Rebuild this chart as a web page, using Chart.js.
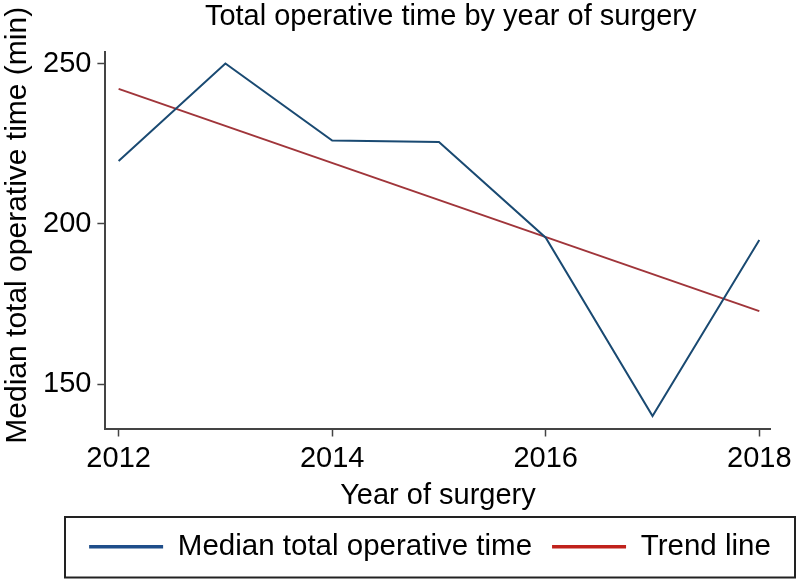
<!DOCTYPE html>
<html>
<head>
<meta charset="utf-8">
<script src="https://cdn.jsdelivr.net/npm/chart.js@4.4.1/dist/chart.umd.min.js"></script>
<style>
  html, body { margin: 0; padding: 0; background: #ffffff; }
  #wrap { width: 800px; height: 580px; }
</style>
</head>
<body>
<div id="wrap"><canvas id="c" width="800" height="580"></canvas></div>
<script>
const years = [2012, 2013, 2014, 2015, 2016, 2017, 2018];
const medianTime = [219.6, 250.0, 226.0, 225.5, 195.7, 140.1, 195.0];
const trendYears = [2012, 2018];
const trendValues = [242.1, 172.8];
const yTicks = [150, 200, 250];
const xTicks = [2012, 2014, 2016, 2018];
const seriesNames = ['Median total operative time', 'Trend line'];

const FONT = "'Liberation Sans', Arial, Helvetica, sans-serif";
const BLUE = '#1a4a72';
const RED = '#a0353a';
const LEGEND_COLORS = ['#1f4e8a', '#c0221c'];

const legendFrame = {
  id: 'legendFrame',
  beforeDraw(chart) {
    const lg = chart.legend;
    lg.left = 65; lg.right = 795;
  },
  afterDraw(chart) {
    const lg = chart.legend;
    const ctx = chart.ctx;
    ctx.save();
    ctx.strokeStyle = '#222';
    ctx.lineWidth = 2;
    ctx.strokeRect(lg.left, lg.top + 5, lg.right - lg.left, lg.bottom - lg.top + 1);
    ctx.restore();
  }
};

const titleShift = {
  id: 'titleShift',
  beforeDraw(chart) {
    const tb = chart.titleBlock;
    tb.left = chart.chartArea.left;
    tb.right = chart.width - 4;
    const ys = chart.scales.y;
    if (!ys._shiftedTitle) {
      const orig = ys.drawTitle;
      ys.drawTitle = function () {
        this.ctx.save();
        this.ctx.translate(0, -15);
        orig.call(this);
        this.ctx.restore();
      };
      ys._shiftedTitle = true;
    }
  }
};

new Chart(document.getElementById('c'), {
  type: 'line',
  data: {
    datasets: [
      {
        label: seriesNames[0],
        data: years.map((y, i) => ({ x: y, y: medianTime[i] })),
        borderColor: BLUE,
        backgroundColor: BLUE,
        borderWidth: 2,
        pointRadius: 0,
        tension: 0
      },
      {
        label: seriesNames[1],
        data: trendYears.map((y, i) => ({ x: y, y: trendValues[i] })),
        borderColor: RED,
        backgroundColor: RED,
        borderWidth: 2,
        pointRadius: 0,
        tension: 0
      }
    ]
  },
  options: {
    responsive: false,
    animation: false,
    layout: { padding: { left: 3, right: 26, top: 0, bottom: 8.5 } },
    plugins: {
      title: {
        display: true,
        text: 'Total operative time by year of surgery',
        color: '#000',
        font: { family: FONT, size: 29, weight: 'normal', lineHeight: 1.0 },
        padding: { top: 2, bottom: 21 }
      },
      legend: {
        display: true,
        position: 'bottom',
        labels: {
          color: '#000',
          font: { family: FONT, size: 29.5, lineHeight: 1.0 },
          usePointStyle: true,
          pointStyle: 'line',
          pointStyleWidth: 74,
          padding: 20,
          generateLabels(chart) {
            return chart.data.datasets.map((ds, i) => ({
              text: ds.label,
              fillStyle: LEGEND_COLORS[i],
              strokeStyle: LEGEND_COLORS[i],
              lineWidth: 3.5,
              pointStyle: 'line',
              hidden: false,
              datasetIndex: i,
              fontColor: '#000'
            }));
          }
        }
      },
      tooltip: { enabled: false }
    },
    scales: {
      x: {
        type: 'linear',
        min: 2011.876,
        max: 2018.105,
        afterBuildTicks(axis) { axis.ticks = xTicks.map(v => ({ value: v })); },
        ticks: {
          color: '#000',
          font: { family: FONT, size: 29, lineHeight: 1.0 },
          padding: 8,
          maxRotation: 0,
          callback: v => String(v)
        },
        grid: { display: true, drawOnChartArea: false, drawTicks: true, tickLength: 8, tickWidth: 1.5, color: '#444' },
        border: { display: true, color: '#444', width: 2 },
        title: {
          display: true,
          text: 'Year of surgery',
          color: '#000',
          font: { family: FONT, size: 29, lineHeight: 1.0 },
          padding: { top: 0, bottom: 1.5 }
        }
      },
      y: {
        type: 'linear',
        min: 136.2,
        max: 253.6,
        afterBuildTicks(axis) { axis.ticks = yTicks.map(v => ({ value: v })); },
        ticks: {
          color: '#000',
          font: { family: FONT, size: 29, lineHeight: 1.0 },
          padding: 6,
          callback: v => String(v)
        },
        grid: { display: true, drawOnChartArea: false, drawTicks: true, tickLength: 8, tickWidth: 1.5, color: '#444' },
        border: { display: true, color: '#444', width: 2 },
        title: {
          display: true,
          text: 'Median total operative time (min)',
          color: '#000',
          font: { family: FONT, size: 30, lineHeight: 1.0 },
          padding: { top: 0, bottom: 4 }
        }
      }
    }
  },
  plugins: [legendFrame, titleShift]
});
</script>
</body>
</html>
